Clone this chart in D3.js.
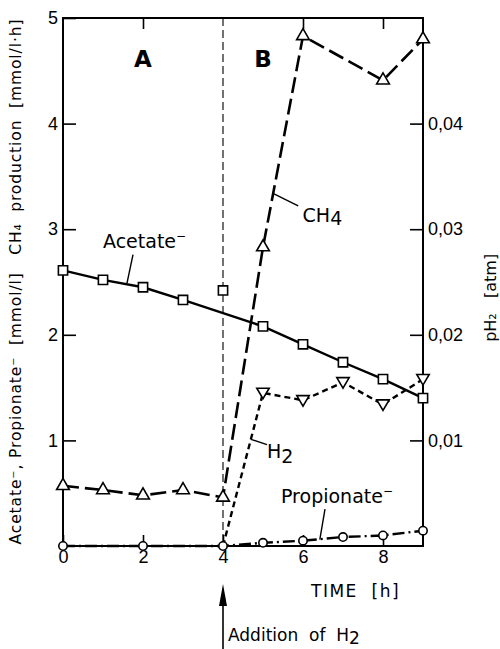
<!DOCTYPE html>
<html>
<head>
<meta charset="utf-8">
<script src="https://cdn.jsdelivr.net/npm/d3@7"></script>
<style>
  body { margin: 0; background: #fff; }
  svg { display: block; font-family: "DejaVu Sans", sans-serif; }
  svg text { white-space: pre; }
</style>
</head>
<body>
<script>
// time points (h)
const acetateTime = [0, 1, 2, 3, 4, 5, 6, 7, 8, 9];
const acetateValues = [2.61, 2.52, 2.45, 2.33, 2.42, 2.08, 1.91, 1.74, 1.58, 1.40];
const acetateOffLine = [4]; // point at 4 h not joined by the line

const ch4Time = [0, 1, 2, 3, 4, 5, 6, 8, 9];
const ch4Values = [0.57, 0.53, 0.48, 0.53, 0.46, 2.83, 4.83, 4.41, 4.80];

const propTime = [0, 2, 4, 5, 6, 7, 8, 9];
const propValues = [0, 0, 0, 0.03, 0.05, 0.085, 0.10, 0.145];

// pH2 (atm), right axis
const h2Time = [4, 5, 6, 7, 8, 9];
const h2Values = [0, 0.0145, 0.0138, 0.0155, 0.0134, 0.0158];

const xTicks = [0, 2, 4, 6, 8];
const yTicks = [1, 2, 3, 4, 5];
const y2Ticks = [0.01, 0.02, 0.03, 0.04];

const width = 500, height = 649;
const svg = d3.select("body").append("svg")
    .attr("width", width)
    .attr("height", height);

const x = d3.scaleLinear().domain([0, 9]).range([63, 423]);
const y = d3.scaleLinear().domain([0, 5]).range([546, 18]);
const y2 = d3.scaleLinear().domain([0, 0.05]).range([546, 18]);

// frame
svg.append("rect")
    .attr("x", x(0)).attr("y", y(5))
    .attr("width", x(9) - x(0)).attr("height", y(0) - y(5))
    .attr("fill", "none").attr("stroke", "#000").attr("stroke-width", 2);

const axisStyle = g => {
  g.select(".domain").remove();
  g.selectAll(".tick line").attr("stroke", "#000").attr("stroke-width", 1.6);
  g.selectAll(".tick text").attr("fill", "#000").attr("font-size", 18);
};

svg.append("g")
    .attr("transform", `translate(${x(0)},0)`)
    .call(d3.axisLeft(y).tickValues(yTicks).tickSize(-13).tickPadding(5).tickFormat(d3.format("d")))
    .call(axisStyle);

svg.append("g")
    .attr("transform", `translate(0,${y(0)})`)
    .call(d3.axisBottom(x).tickValues(xTicks).tickSize(-11).tickPadding(4).tickFormat(d3.format("d")))
    .call(axisStyle);

svg.append("g")
    .attr("transform", `translate(0,${y(5)})`)
    .call(d3.axisTop(x).tickValues([2, 6, 8]).tickSize(-11).tickFormat(""))
    .call(axisStyle);

svg.append("g")
    .attr("transform", `translate(${x(9)},0)`)
    .call(d3.axisRight(y2).tickValues(y2Ticks).tickSize(-13).tickPadding(5)
      .tickFormat(d => d3.format(".2f")(d).replace(".", ",")))
    .call(axisStyle);

// phase divider at 4 h
svg.append("line")
    .attr("x1", x(4)).attr("x2", x(4))
    .attr("y1", y(5)).attr("y2", y(0))
    .attr("stroke", "#000").attr("stroke-width", 1.1)
    .attr("stroke-dasharray", "8,4");

svg.append("text").attr("x", x(2)).attr("y", 67)
    .attr("text-anchor", "middle").attr("font-size", 23).attr("font-weight", "bold").text("A");
svg.append("text").attr("x", x(5)).attr("y", 67)
    .attr("text-anchor", "middle").attr("font-size", 23).attr("font-weight", "bold").text("B");

// series
const acetate = acetateTime.map((t, i) => ({t, v: acetateValues[i]}));
const ch4 = ch4Time.map((t, i) => ({t, v: ch4Values[i]}));
const prop = propTime.map((t, i) => ({t, v: propValues[i]}));
const h2 = h2Time.map((t, i) => ({t, v: h2Values[i]}));

const line = d3.line().x(d => x(d.t)).y(d => y(d.v));
const line2 = d3.line().x(d => x(d.t)).y(d => y2(d.v));

svg.append("path")
    .datum(prop)
    .attr("d", line)
    .attr("fill", "none").attr("stroke", "#000").attr("stroke-width", 2.4)
    .attr("stroke-dasharray", "12,4,2,4");

svg.append("path")
    .datum(h2)
    .attr("d", line2)
    .attr("fill", "none").attr("stroke", "#000").attr("stroke-width", 2.4)
    .attr("stroke-dasharray", "6,4");

svg.append("path")
    .datum(ch4)
    .attr("d", line)
    .attr("fill", "none").attr("stroke", "#000").attr("stroke-width", 2.6)
    .attr("stroke-dasharray", "16,6");

svg.append("path")
    .datum(acetate.filter(d => !acetateOffLine.includes(d.t)))
    .attr("d", line)
    .attr("fill", "none").attr("stroke", "#000").attr("stroke-width", 2.4);

// markers
const marker = (data, type, size, yy) => {
  svg.append("g").selectAll("path")
    .data(data)
    .join("path")
      .attr("transform", d => `translate(${x(d.t)},${yy(d.v)})`)
      .attr("d", d3.symbol().type(type).size(size))
      .attr("fill", "#fff").attr("stroke", "#000").attr("stroke-width", 1.6);
};

marker(prop, d3.symbolCircle, 55, y);
marker(h2.filter(d => d.v > 0), {draw(ctx, s) {
  const r = Math.sqrt(s) * 0.62;
  ctx.moveTo(-r, -r * 0.75); ctx.lineTo(r, -r * 0.75); ctx.lineTo(0, r * 0.95); ctx.closePath();
}}, 100, y2);
marker(ch4, d3.symbolTriangle, 70, y);
marker(acetate, d3.symbolSquare, 85, y);

// curve labels with leader lines
const lab = (tx, ty, parts, size) => {
  const t = svg.append("text").attr("x", tx).attr("y", ty).attr("font-size", size);
  parts.forEach(p => t.append("tspan").attr("dy", p.dy || 0).attr("font-size", p.fs || null).text(p.s));
  return t;
};
const leader = (a, b) => svg.append("line")
    .attr("x1", x(a[0])).attr("y1", y(a[1])).attr("x2", x(b[0])).attr("y2", y(b[1]))
    .attr("stroke", "#000").attr("stroke-width", 1.4);

lab(x(1), y(2.82), [{s: "Acetate"}, {s: "\u2212", dy: -8, fs: 12}], 19);
leader([1.75, 2.76], [1.6, 2.49]);

lab(x(5.99), y(3.07), [{s: "CH"}, {s: "4", dy: 3}], 19);
leader([5.25, 3.34], [5.88, 3.22]);

lab(x(5.1), y(0.83), [{s: "H"}, {s: "2", dy: 5}], 19);
leader([4.7, 1.01], [5.1, 0.96]);

lab(x(5.45), y(0.41), [{s: "Propionate"}, {s: "\u2212", dy: -8, fs: 12}], 19);
leader([6.55, 0.35], [6.42, 0.06]);

// axis titles
svg.append("text")
    .attr("transform", `translate(21,${(y(0) + y(5)) / 2}) rotate(-90)`)
    .attr("text-anchor", "middle").attr("font-size", 15.5)
    .attr("textLength", 525).attr("lengthAdjust", "spacing")
    .text("Acetate\u207B, Propionate\u207B  [mmol/l]   CH\u2084  production  [mmol/l\u00B7h]");

svg.append("text")
    .attr("transform", `translate(496,${y(2.35)}) rotate(-90)`)
    .attr("text-anchor", "middle").attr("font-size", 16)
    .text("pH\u2082   [atm]");

svg.append("text")
    .attr("x", x(6.2)).attr("y", 597)
    .attr("font-size", 17).attr("letter-spacing", 1.5)
    .text("TIME  [h]");

// H2 addition arrow
svg.append("line")
    .attr("x1", x(4)).attr("x2", x(4)).attr("y1", 600).attr("y2", 649)
    .attr("stroke", "#000").attr("stroke-width", 1.6);
svg.append("path")
    .attr("d", `M${x(4)},584 L${x(4) - 4},606 L${x(4) + 4},606 Z`)
    .attr("fill", "#000");
lab(x(4) + 5, 641, [{s: "Addition  of  H"}, {s: "2", dy: 3}], 17);
</script>
</body>
</html>
